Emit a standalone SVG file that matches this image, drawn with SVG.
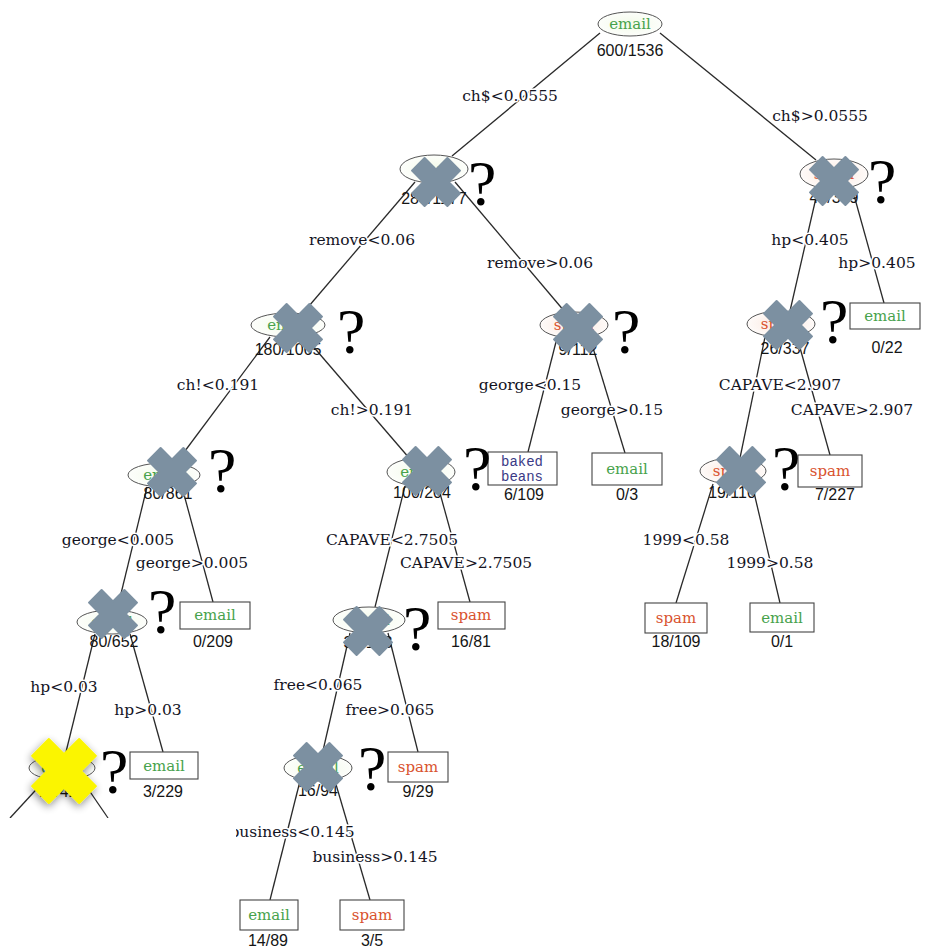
<svg xmlns="http://www.w3.org/2000/svg" width="928" height="949" viewBox="0 0 928 949">
  <style>
    .edge { stroke: #2a2a2a; stroke-width: 1.3; fill: none; }
    .split { font-family: "DejaVu Serif", "Liberation Serif", serif; font-size: 15.5px; fill: #14141f; text-anchor: middle; paint-order: stroke; stroke: #fff; stroke-width: 3px; }
    .cnt { font-family: "Liberation Sans", Arial, sans-serif; font-size: 16px; fill: #151515; text-anchor: middle; }
    .cls { font-family: "DejaVu Serif", "Liberation Serif", serif; font-size: 15px; text-anchor: middle; }
    .em { fill: #47a24c; }
    .sp { fill: #d9532e; }
    .bb { font-family: "Liberation Mono", "DejaVu Sans Mono", monospace; fill: #3b3a86; font-size: 14px; }
    .oval-e { fill: url(#gE); stroke: #555; stroke-width: 1; }
    .oval-s { fill: url(#gS); stroke: #555; stroke-width: 1; }
    .box { fill: #fff; stroke: #444; stroke-width: 1.1; }
    .q { font-family: "Liberation Serif", "Times New Roman", serif; font-size: 64px; fill: #000; }
    .xg { fill: #7c90a1; stroke: #7c90a1; stroke-width: 2; stroke-linejoin: round; }
  </style>
  <defs>
    <radialGradient id="gE" cx="0.5" cy="0.5" r="0.6">
      <stop offset="0" stop-color="#f2fae8"/>
      <stop offset="1" stop-color="#ffffff"/>
    </radialGradient>
    <radialGradient id="gS" cx="0.5" cy="0.5" r="0.6">
      <stop offset="0" stop-color="#fbe6dc"/>
      <stop offset="1" stop-color="#ffffff"/>
    </radialGradient>
    <!-- bold diagonal cross shape, centred on 0,0 -->
    <path id="cross" d="M-24,-11.4 L-11.4,-24 L0,-12.6 L11.4,-24 L24,-11.4 L12.6,0 L24,11.4 L11.4,24 L0,12.6 L-11.4,24 L-24,11.4 L-12.6,0 Z"/>
    <filter id="glow" x="-40%" y="-40%" width="180%" height="180%">
      <feGaussianBlur in="SourceAlpha" stdDeviation="3"/>
      <feOffset dx="-1" dy="2" result="b"/>
      <feComponentTransfer in="b" result="s"><feFuncA type="linear" slope="0.45"/></feComponentTransfer>
      <feMerge><feMergeNode in="s"/><feMergeNode in="SourceGraphic"/></feMerge>
    </filter>
  </defs>

  <rect width="928" height="949" fill="#fff"/>

  <!-- connectors -->
  <g id="edges">
    <line class="edge" x1="600" y1="33" x2="452" y2="156"/>
    <line class="edge" x1="660" y1="33" x2="816" y2="160"/>
    <line class="edge" x1="415" y1="182" x2="303" y2="313"/>
    <line class="edge" x1="455" y1="182" x2="565" y2="312"/>
    <line class="edge" x1="818" y1="189" x2="790" y2="311"/>
    <line class="edge" x1="852" y1="188" x2="884" y2="303"/>
    <line class="edge" x1="270" y1="337" x2="176" y2="463"/>
    <line class="edge" x1="305" y1="337" x2="410" y2="459"/>
    <line class="edge" x1="557" y1="338" x2="528" y2="452"/>
    <line class="edge" x1="590" y1="338" x2="625" y2="453"/>
    <line class="edge" x1="765" y1="337" x2="740" y2="458"/>
    <line class="edge" x1="797" y1="337" x2="830" y2="455"/>
    <line class="edge" x1="147" y1="487" x2="117" y2="610"/>
    <line class="edge" x1="182" y1="487" x2="213" y2="602"/>
    <line class="edge" x1="405" y1="486" x2="375" y2="607"/>
    <line class="edge" x1="438" y1="486" x2="470" y2="602"/>
    <line class="edge" x1="713" y1="484" x2="676" y2="603"/>
    <line class="edge" x1="752" y1="484" x2="780" y2="603"/>
    <line class="edge" x1="95" y1="634" x2="65" y2="756"/>
    <line class="edge" x1="130" y1="634" x2="163" y2="752"/>
    <line class="edge" x1="350" y1="633" x2="322" y2="755"/>
    <line class="edge" x1="388" y1="633" x2="418" y2="752"/>
    <line class="edge" x1="300" y1="781" x2="270" y2="900"/>
    <line class="edge" x1="335" y1="781" x2="370" y2="900"/>
    <line class="edge" x1="45" y1="780" x2="10" y2="818"/>
    <line class="edge" x1="82" y1="780" x2="108" y2="818"/>
  </g>

  <!-- split labels -->
  <g id="splits">
    <text class="split" x="510" y="101">ch$&lt;0.0555</text>
    <text class="split" x="820" y="121">ch$&gt;0.0555</text>
    <text class="split" x="362" y="245">remove&lt;0.06</text>
    <text class="split" x="540" y="268">remove&gt;0.06</text>
    <text class="split" x="810" y="245">hp&lt;0.405</text>
    <text class="split" x="877" y="268">hp&gt;0.405</text>
    <text class="split" x="218" y="390">ch!&lt;0.191</text>
    <text class="split" x="372" y="415">ch!&gt;0.191</text>
    <text class="split" x="530" y="390">george&lt;0.15</text>
    <text class="split" x="612" y="415">george&gt;0.15</text>
    <text class="split" x="780" y="390">CAPAVE&lt;2.907</text>
    <text class="split" x="852" y="415">CAPAVE&gt;2.907</text>
    <text class="split" x="118" y="545">george&lt;0.005</text>
    <text class="split" x="192" y="568">george&gt;0.005</text>
    <text class="split" x="392" y="545">CAPAVE&lt;2.7505</text>
    <text class="split" x="466" y="568">CAPAVE&gt;2.7505</text>
    <text class="split" x="686" y="545">1999&lt;0.58</text>
    <text class="split" x="770" y="568">1999&gt;0.58</text>
    <text class="split" x="64" y="692">hp&lt;0.03</text>
    <text class="split" x="148" y="715">hp&gt;0.03</text>
    <text class="split" x="318" y="690">free&lt;0.065</text>
    <text class="split" x="390" y="715">free&gt;0.065</text>
    <text class="split" x="292" y="837">business&lt;0.145</text>
    <text class="split" x="375" y="862">business&gt;0.145</text>
  </g>

  <!-- internal nodes -->
  <g id="n-root">
    <ellipse class="oval-e" cx="630" cy="24" rx="32" ry="12"/>
    <text class="cls em" x="630" y="29">email</text>
    <text class="cnt" x="630" y="56">600/1536</text>
  </g>
  <g id="n-280-1177">
    <ellipse class="oval-e" cx="434" cy="169" rx="34" ry="14"/>
    <text class="cls em" x="434" y="174">email</text>
    <text class="cnt" x="434" y="204">280/1177</text>
  </g>
  <g id="n-48-359">
    <ellipse class="oval-s" cx="834" cy="174" rx="34" ry="15"/>
    <text class="cls sp" x="834" y="179">spam</text>
    <text class="cnt" x="834" y="203">48/359</text>
  </g>
  <g id="n-180-1065">
    <ellipse class="oval-e" cx="288" cy="325" rx="37" ry="12"/>
    <text class="cls em" x="288" y="330">email</text>
    <text class="cnt" x="288" y="355">180/1065</text>
  </g>
  <g id="n-9-112">
    <ellipse class="oval-s" cx="574" cy="325" rx="34" ry="13"/>
    <text class="cls sp" x="574" y="330">spam</text>
    <text class="cnt" x="578" y="355">9/112</text>
  </g>
  <g id="n-26-337">
    <ellipse class="oval-s" cx="781" cy="324" rx="34" ry="13"/>
    <text class="cls sp" x="781" y="329">spam</text>
    <text class="cnt" x="785" y="354">26/337</text>
  </g>
  <g id="n-80-861">
    <ellipse class="oval-e" cx="164" cy="475" rx="36" ry="12"/>
    <text class="cls em" x="164" y="480">email</text>
    <text class="cnt" x="168" y="499">80/861</text>
  </g>
  <g id="n-100-204">
    <ellipse class="oval-e" cx="421" cy="472" rx="34" ry="14"/>
    <text class="cls em" x="421" y="477">email</text>
    <text class="cnt" x="422" y="498">100/204</text>
  </g>
  <g id="n-19-110">
    <ellipse class="oval-s" cx="733" cy="471" rx="33" ry="13"/>
    <text class="cls sp" x="733" y="476">spam</text>
    <text class="cnt" x="732" y="498">19/110</text>
  </g>
  <g id="n-80-652">
    <ellipse class="oval-e" cx="112" cy="622" rx="35" ry="12"/>
    <text class="cls em" x="112" y="627">email</text>
    <text class="cnt" x="114" y="647">80/652</text>
  </g>
  <g id="n-36-123">
    <ellipse class="oval-e" cx="369" cy="620" rx="36" ry="13"/>
    <text class="cls em" x="369" y="625">email</text>
    <text class="cnt" x="368" y="648">36/123</text>
  </g>
  <g id="n-77-423">
    <ellipse class="oval-e" cx="62" cy="768" rx="33" ry="12"/>
    <text class="cls em" x="62" y="773">email</text>
    <text class="cnt" x="62" y="797">77/423</text>
  </g>
  <g id="n-16-94">
    <ellipse class="oval-e" cx="318" cy="768" rx="34" ry="13"/>
    <text class="cls em" x="318" y="773">email</text>
    <text class="cnt" x="318" y="796">16/94</text>
  </g>

  <!-- leaves -->
  <g id="l-0-22">
    <rect class="box" x="850" y="303" width="70" height="26"/>
    <text class="cls em" x="885" y="321">email</text>
    <text class="cnt" x="887" y="353">0/22</text>
  </g>
  <g id="l-6-109">
    <rect class="box" x="488" y="452" width="69" height="33"/>
    <text class="bb" x="522" y="466" text-anchor="middle">baked</text>
    <text class="bb" x="522" y="481" text-anchor="middle">beans</text>
    <text class="cnt" x="524" y="500">6/109</text>
  </g>
  <g id="l-0-3">
    <rect class="box" x="592" y="453" width="70" height="32"/>
    <text class="cls em" x="627" y="474">email</text>
    <text class="cnt" x="627" y="500">0/3</text>
  </g>
  <g id="l-7-227">
    <rect class="box" x="798" y="455" width="64" height="32"/>
    <text class="cls sp" x="830" y="476">spam</text>
    <text class="cnt" x="835" y="500">7/227</text>
  </g>
  <g id="l-0-209">
    <rect class="box" x="180" y="602" width="70" height="27"/>
    <text class="cls em" x="215" y="620">email</text>
    <text class="cnt" x="213" y="647">0/209</text>
  </g>
  <g id="l-16-81">
    <rect class="box" x="438" y="602" width="67" height="27"/>
    <text class="cls sp" x="471" y="620">spam</text>
    <text class="cnt" x="471" y="647">16/81</text>
  </g>
  <g id="l-18-109">
    <rect class="box" x="645" y="603" width="62" height="30"/>
    <text class="cls sp" x="676" y="623">spam</text>
    <text class="cnt" x="676" y="647">18/109</text>
  </g>
  <g id="l-0-1">
    <rect class="box" x="750" y="603" width="64" height="29"/>
    <text class="cls em" x="782" y="623">email</text>
    <text class="cnt" x="782" y="647">0/1</text>
  </g>
  <g id="l-3-229">
    <rect class="box" x="130" y="752" width="68" height="27"/>
    <text class="cls em" x="164" y="771">email</text>
    <text class="cnt" x="163" y="797">3/229</text>
  </g>
  <g id="l-9-29">
    <rect class="box" x="388" y="752" width="60" height="30"/>
    <text class="cls sp" x="418" y="772">spam</text>
    <text class="cnt" x="418" y="797">9/29</text>
  </g>
  <g id="l-14-89">
    <rect class="box" x="240" y="900" width="58" height="30"/>
    <text class="cls em" x="269" y="920">email</text>
    <text class="cnt" x="268" y="946">14/89</text>
  </g>
  <g id="l-3-5">
    <rect class="box" x="340" y="900" width="64" height="30"/>
    <text class="cls sp" x="372" y="920">spam</text>
    <text class="cnt" x="372" y="946">3/5</text>
  </g>

  <!-- blank lower-left corner -->
  <rect x="0" y="818" width="236" height="131" fill="#fff"/>

  <!-- crosses and question marks on the internal nodes -->
  <g id="marks">
    <use href="#cross" class="xg" x="436" y="182"/>
    <use href="#cross" class="xg" x="834" y="181"/>
    <use href="#cross" class="xg" x="298" y="328"/>
    <use href="#cross" class="xg" x="578" y="328"/>
    <use href="#cross" class="xg" x="788" y="325"/>
    <use href="#cross" class="xg" x="172" y="472"/>
    <use href="#cross" class="xg" x="427" y="471"/>
    <use href="#cross" class="xg" x="741" y="471"/>
    <use href="#cross" class="xg" x="113" y="614"/>
    <use href="#cross" class="xg" x="368" y="631"/>
    <use href="#cross" class="xg" x="318" y="767"/>
    <g transform="translate(64,771) scale(1.33)" filter="url(#glow)">
      <use href="#cross" fill="#fbf500" stroke="#fbf500" stroke-width="1.5" stroke-linejoin="round"/>
    </g>
    <text class="q" x="468" y="205">?</text>
    <text class="q" x="868" y="203">?</text>
    <text class="q" x="337" y="353">?</text>
    <text class="q" x="612" y="353">?</text>
    <text class="q" x="820" y="343">?</text>
    <text class="q" x="208" y="492">?</text>
    <text class="q" x="463" y="490">?</text>
    <text class="q" x="772" y="490">?</text>
    <text class="q" x="148" y="633">?</text>
    <text class="q" x="403" y="650">?</text>
    <text class="q" x="100" y="793">?</text>
    <text class="q" x="358" y="790">?</text>
  </g>
</svg>
